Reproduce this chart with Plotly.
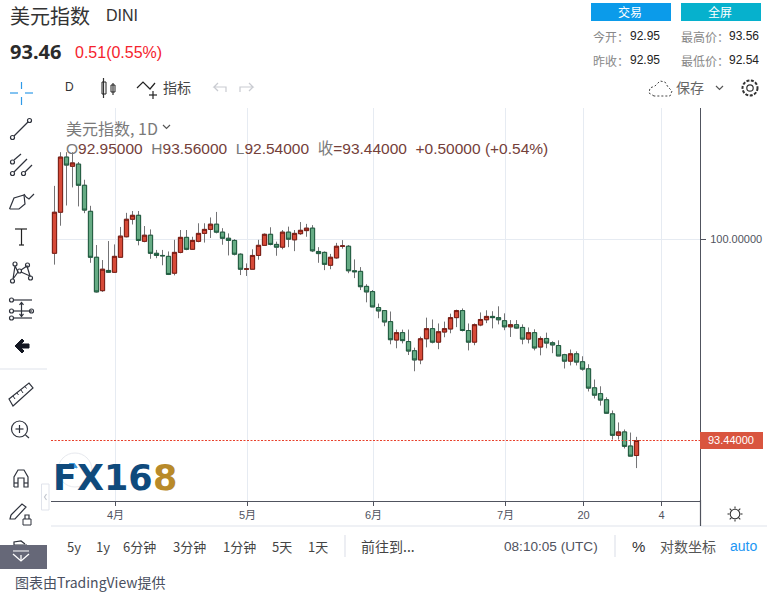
import plotly.graph_objects as go
import numpy as np

W, H = 767, 593

opens = [99.55,100.89,102.69,102.39,102.46,101.77,100.92,99.42,98.33,98.99,98.93,99.42,100.09,100.66,100.79,99.94,100.14,99.55,99.48,99.45,98.90,99.58,100.07,99.68,99.94,100.20,100.33,100.50,100.24,100.04,99.97,99.52,99.03,99.03,99.48,99.81,100.17,99.84,99.75,100.24,
         99.99,100.19,100.29,100.37,99.61,99.58,99.16,99.40,99.78,99.78,98.98,98.96,98.47,98.30,97.78,97.68,97.32,96.72,96.96,96.67,96.37,96.07,96.76,97.09,96.65,96.98,97.08,97.45,97.68,97.03,96.65,97.21,97.38,
         97.49,97.45,97.35,97.15,97.22,97.13,96.75,96.96,96.49,96.77,96.63,96.54,96.24,96.03,96.27,96.01,95.78,95.16,94.97,94.77,94.31,93.61,93.72,93.26,92.95]
closes = [100.89,102.69,102.43,102.50,101.77,100.96,99.42,98.29,99.03,98.93,99.45,100.11,100.66,100.79,99.97,100.14,99.55,99.48,99.47,98.86,99.58,100.07,99.68,99.97,100.20,100.33,100.50,100.24,100.04,99.97,99.52,99.03,99.04,99.48,99.81,100.17,99.84,99.75,100.24,100.01,
          100.20,100.30,100.37,99.63,99.54,99.19,99.42,99.78,99.79,98.98,98.95,98.46,98.29,97.80,97.67,97.31,96.73,96.96,96.70,96.36,96.07,96.76,97.09,96.65,96.99,97.09,97.45,97.68,97.03,96.65,97.22,97.39,97.49,
          97.45,97.38,97.15,97.22,97.11,96.75,96.96,96.46,96.77,96.62,96.56,96.20,96.03,96.27,96.00,95.77,95.15,94.92,94.76,94.33,93.61,93.72,93.25,92.93,93.44]
highs = [101.75,102.85,102.85,102.85,102.53,101.95,101.10,99.82,99.33,99.95,99.84,100.41,100.87,100.93,100.93,100.44,100.33,99.66,99.66,99.61,99.99,100.31,100.31,100.09,100.53,100.53,100.72,100.90,100.37,100.20,100.01,99.55,99.22,99.68,99.99,100.20,100.40,99.93,100.31,100.42,
         100.31,100.57,100.51,100.47,99.75,99.61,99.53,99.89,99.98,99.82,99.35,99.10,98.54,98.35,97.91,97.69,97.65,97.06,97.06,97.06,96.47,96.83,97.45,97.39,97.26,97.32,97.58,97.71,97.75,97.26,97.26,97.62,97.69,
         97.66,97.82,97.59,97.37,97.37,97.23,97.13,97.07,96.84,96.96,96.68,96.71,96.27,96.41,96.35,96.19,95.93,95.43,95.21,94.85,94.42,94.03,93.80,93.70,93.56]
lows = [99.18,100.45,101.11,101.70,101.08,100.86,99.24,98.27,98.29,98.92,98.92,99.42,100.07,100.49,99.81,99.91,99.37,99.39,99.16,98.84,98.83,99.55,99.65,99.66,99.91,99.90,100.05,100.20,99.83,99.48,99.48,98.84,98.81,99.03,99.34,99.81,99.81,99.47,99.68,99.75,
        99.62,100.15,100.09,99.59,99.24,99.00,99.03,99.37,99.70,98.90,98.74,98.35,97.95,97.80,97.43,97.17,96.58,96.45,96.61,96.23,95.70,95.93,96.48,96.61,96.42,96.81,96.94,97.14,97.00,96.38,96.55,97.17,97.27,
        97.10,97.23,97.04,96.82,97.09,96.58,96.61,96.38,96.22,96.45,96.29,96.20,95.79,95.89,95.89,95.72,95.04,94.81,94.58,94.31,93.47,93.47,93.18,92.93,92.54]
sessions = list(range(len(opens)))

month_ticks = [10.17, 32.17, 53.17, 75.17, 88.17, 101.17]
month_labels = ["4月", "5月", "6月", "7月", "20", "4"]
price_ticks = [100]
price_labels = ["100.00000"]
last_price = 93.44

CJK = "Noto Sans CJK SC, Noto Sans, sans-serif"
LAT = "Liberation Sans, Noto Sans CJK SC, sans-serif"

def fx(x): return x / W
def fy(y): return 1 - y / H

shapes, annos = [], []

def text(x, y, s, size=13, color="#333333", anchor="left", font=CJK, **kw):
    annos.append(dict(xref="paper", yref="paper", x=fx(x - 1), y=fy(y - 1), text=s, showarrow=False,
                      xanchor=anchor, yanchor="middle", align=anchor,
                      font=dict(size=size, color=color, family=font),
                      borderpad=0, **kw))

def path(pts, color="#333333", width=1.2, close=False, fill=None, dash=None):
    d = "M" + " L".join(f"{fx(a):.5f},{fy(b):.5f}" for a, b in pts) + (" Z" if close else "")
    shapes.append(dict(type="path", xref="paper", yref="paper", path=d,
                       line=dict(color=color, width=width, dash=dash or "solid"),
                       fillcolor=fill if fill else "rgba(0,0,0,0)"))

def rect(x0, y0, x1, y1, fill=None, color=None, width=1):
    shapes.append(dict(type="rect", xref="paper", yref="paper", x0=fx(x0), x1=fx(x1), y0=fy(y0), y1=fy(y1),
                       fillcolor=fill if fill else "rgba(0,0,0,0)",
                       line=dict(color=color if color else "rgba(0,0,0,0)", width=width)))

def circ(cx, cy, r, color="#333333", width=1.2, fill=None, dash=None):
    shapes.append(dict(type="circle", xref="paper", yref="paper", x0=fx(cx - r), x1=fx(cx + r),
                       y0=fy(cy + r), y1=fy(cy - r), fillcolor=fill if fill else "rgba(0,0,0,0)",
                       line=dict(color=color, width=width, dash=dash or "solid")))

# header
text(10, 16, "美元指数", 20, "#333333")
text(106, 17, "DINI", 16, "#333333", font=LAT)
text(10, 52, "<b>93.46</b>", 20, "#2b2b2b", font="Noto Sans")
text(75, 53, "0.51(0.55%)", 16, "#f5222d", font=LAT)
rect(591, 3, 671, 21, fill="#0b9bea")
rect(681, 3, 761, 21, fill="#06b1cd")
text(631, 12, "交易", 12, "#ffffff", "center")
text(721, 12, "全屏", 12, "#ffffff", "center")
for lbl, val, xl, xv, y in [("今开：", "92.95", 593, 630, 37), ("最高价：", "93.56", 681, 729, 37),
                            ("昨收：", "92.95", 593, 630, 61), ("最低价：", "92.54", 681, 729, 61)]:
    text(xl, y, lbl, 12, "#888888")
    text(xv, y, val, 12, "#222222", font=LAT)

# top toolbar
text(65, 88, "D", 12, "#333333", font=LAT)
path([(103.5, 78), (103.5, 98)]); rect(102, 82, 106, 94, color="#222222")
path([(113, 83), (113, 95)]); rect(111, 85, 115, 92, color="#222222")
path([(137, 88), (143, 82), (150, 89), (155, 83)], "#222222")
path([(149, 95), (157, 95)], "#222222"); path([(153, 91), (153, 99)], "#222222")
text(163, 88, "指标", 14, "#444444")
path([(226, 92), (226, 87), (214, 87), (218, 83)], "#c9cbd1"); path([(214, 87), (218, 91)], "#c9cbd1")
path([(240, 92), (240, 87), (253, 87), (249, 83)], "#c9cbd1"); path([(253, 87), (249, 91)], "#c9cbd1")
path([(654, 96), (649, 93), (650, 88), (655, 86), (660, 81), (665, 82), (668, 87), (672, 91), (670, 96), (654, 96)],
     "#444444", 1, dash="2px,2px")
text(676, 88, "保存", 14, "#666666")
path([(716, 86), (719.5, 89.5), (723, 86)], "#555555")
circ(750, 88, 3.2, "#333333")
circ(750, 88, 7.5, "#333333", dash="3px,1.5px", width=2)

# chart legend
text(66, 129, "美元指数, 1D", 16, "#7a7a7a")
path([(163, 125), (166.5, 128.5), (170, 125)], "#555555")
BR = "#74403a"; GR = "#7a7a7a"
text(66, 149,
     f'<span style="color:{GR}">O</span>92.95000&nbsp;&nbsp;'
     f'<span style="color:{GR}">H</span>93.56000&nbsp;&nbsp;'
     f'<span style="color:{GR}">L</span>92.54000&nbsp;&nbsp;'
     f'<span style="color:{GR}">收</span>=93.44000&nbsp;&nbsp;+0.50000 (+0.54%)', 15.5, BR, font=LAT)

# left toolbar
B = "#2f333d"
path([(10, 93), (18, 93)], "#2f9ae8"); path([(25, 93), (33, 93)], "#2f9ae8")
path([(21.5, 82), (21.5, 89)], "#2f9ae8"); path([(21.5, 97), (21.5, 105)], "#2f9ae8")
path([(14, 136), (28, 122)], B); circ(12.5, 137.5, 2, B); circ(29.5, 120.5, 2, B)
circ(12.5, 162, 2, B); circ(12.5, 173.5, 2, B); circ(23.5, 173.5, 2, B)
path([(14, 160), (21, 154)], B); path([(14, 172), (27, 159)], B); path([(25, 172), (32, 165)], B)
path([(9.5, 209), (14, 198), (24, 195), (25, 204), (19, 209), (9.5, 209)], B)
path([(26, 197), (29, 199), (34, 194)], B); path([(24, 194), (26, 197)], B)
path([(15, 229), (27, 229)], "#222222"); path([(21.5, 229), (21.5, 245)], "#222222"); path([(19, 245), (24, 245)], "#222222")
for c in [(15, 264), (27.5, 265), (19.5, 271), (12.5, 281), (30.5, 278)]:
    circ(c[0], c[1], 2, B)
path([(15, 266), (13, 279), (18, 272), (15, 266)], B); path([(21, 270), (27, 266), (30, 276), (21, 272)], B)
for y in [300, 311, 318]:
    path([(13, y), (32, y)], B)
circ(11.5, 300, 2, B); circ(11.5, 311, 2, B); circ(11.5, 318, 2, B); circ(31.5, 311, 2, B)
path([(21.5, 303), (21.5, 316)], B)
path([(19.5, 305), (21.5, 302.5), (23.5, 305)], B); path([(19.5, 314), (21.5, 316.5), (23.5, 314)], B)
path([(22, 339), (15, 346), (22, 353), (24, 351), (21, 348), (29, 348), (29, 344), (21, 344), (24, 341)],
     "#131722", 1, close=True, fill="#131722")
path([(0, 369), (47, 369)], "#e0e3eb")
path([(9, 399), (29, 383), (33, 388), (13, 406)], B, close=True)
for p, q in [((13, 396), (15, 399)), ((17, 393), (18.5, 395)), ((21, 390), (23, 393)), ((25, 386.5), (26.5, 388.5))]:
    path([p, q], B, 1)
circ(19.5, 429, 8, B); path([(15.5, 429), (23.5, 429)], B); path([(19.5, 425), (19.5, 433)], B); path([(25.5, 435), (29, 438)], B)
path([(14, 487), (14, 477), (18, 470), (24, 470), (28, 477), (28, 487), (24, 487), (24, 478), (18, 478), (18, 487), (14, 487)], B)
path([(14, 483), (18, 483)], B); path([(24, 483), (28, 483)], B)
path([(11, 515), (22, 504), (26, 507), (15, 519), (10, 519), (11, 515)], B)
rect(23, 519, 31, 525, color=B); path([(25, 519), (25, 515), (29, 515), (29, 519)], B)
rect(41.5, 484, 49, 510, fill="#ffffff", color="#e0e3eb")
path([(46.5, 494), (44.5, 497), (46.5, 500)], "#c3c7cf")
path([(14, 550), (14, 542), (21, 541), (25, 544)], B); rect(14, 545, 27, 546, color=B)
rect(0, 545, 47, 569, fill="#666878")
path([(13, 554), (21, 561), (29, 554)], "#ffffff", 1.3)
path([(21, 555), (21, 560)], "#ffffff", 1.3)
path([(13, 551), (29, 551)], "#ffffff", 1.0)

# logo
circ(75, 470, 17, "#e7e9ee", 1)
text(53, 479, "<b>FX16</b>", 35, "#0f4a7c", font="DejaVu Sans")
text(152.5, 479, "<b>8</b>", 35, "#b88a2a", font="DejaVu Sans")
path([(67, 468), (70, 464), (74, 464), (77, 468)], "#3f9fe0", 2, fill="#3f9fe0")

# bottom toolbar
path([(51, 526), (767, 526)], "#e0e3eb")
for s, x in [("5y", 67), ("1y", 96), ("6分钟", 123), ("3分钟", 173), ("1分钟", 223), ("5天", 272), ("1天", 308)]:
    text(x, 547, s, 13, "#444444")
text(361, 547, "前往到...", 14, "#444444")
text(504, 547, "08:10:05 (UTC)", 13.6, "#50535e", font=LAT)
path([(345, 535), (345, 557)], "#e0e3eb"); path([(615, 535), (615, 557)], "#e0e3eb")
text(632, 547, "%", 15, "#333333", font=LAT)
text(660, 547, "对数坐标", 14, "#555555")
text(730, 547, "auto", 14, "#2196f3", font=LAT)
text(15, 583, "图表由TradingView提供", 14, "#4a5060")

# axis extensions and sun icon
path([(700.5, 500), (700.5, 526)], "#50535e")
circ(735, 514, 4.8, "#333333", 1.1)
for a in range(0, 360, 90):
    r = np.radians(a + 45)
    path([(735 + 5 * np.cos(r), 514 + 5 * np.sin(r)), (735 + 7.5 * np.cos(r), 514 + 7.5 * np.sin(r))], "#333333", 1.1)
for a in range(0, 360, 90):
    r = np.radians(a)
    path([(735 + 5.5 * np.cos(r), 514 + 5.5 * np.sin(r)), (735 + 7.5 * np.cos(r), 514 + 7.5 * np.sin(r))], "#333333", 1.1)

# last price label
rect(700, 432, 763, 449, fill="#d9553f")
text(732, 441, "93.44000", 11, "#ffffff", "center", font=LAT)

fig = go.Figure()
fig.add_trace(go.Candlestick(x=sessions, open=opens, close=closes, high=highs, low=lows, hoverinfo="skip",
                             increasing=dict(line=dict(color="#737375", width=1), fillcolor="rgba(0,0,0,0)"),
                             decreasing=dict(line=dict(color="#737375", width=1), fillcolor="rgba(0,0,0,0)")))
body_hi = np.maximum(opens, closes).tolist()
body_lo = np.minimum(opens, closes).tolist()
fig.add_trace(go.Candlestick(x=sessions, open=opens, close=closes, high=body_hi, low=body_lo, hoverinfo="skip",
                             increasing=dict(line=dict(color="#7b1c13", width=1), fillcolor="#d64a38"),
                             decreasing=dict(line=dict(color="#1f5b3f", width=1), fillcolor="#66ab84")))
fig.add_trace(go.Scatter(x=[-0.583, 107.58], y=[last_price, last_price], mode="lines", hoverinfo="skip",
                         line=dict(color="#e8412c", width=1, dash="2px,1.5px")))

fig.update_layout(
    width=W, height=H, margin=dict(l=0, r=0, t=0, b=0),
    paper_bgcolor="#ffffff", plot_bgcolor="#ffffff", showlegend=False,
    boxmode="overlay", boxgap=0.3, boxgroupgap=0,
    shapes=shapes, annotations=annos,
    xaxis=dict(domain=[51 / W, 700 / W], range=[-0.583, 107.58], rangeslider=dict(visible=False),
               tickmode="array", tickvals=month_ticks, ticktext=month_labels, showgrid=True,
               gridcolor="#e6ebf2", gridwidth=1, zeroline=False, ticks="outside", ticklen=4,
               tickcolor="#50535e", showline=True, linecolor="#50535e", linewidth=1,
               tickfont=dict(size=11, color="#50535e", family="Liberation Sans, Noto Sans CJK SC"),
               anchor="y", fixedrange=True),
    yaxis=dict(domain=[1 - 500.5 / H, 1 - 108 / H], range=[91.482, 104.292], side="right",
               tickmode="array", tickvals=price_ticks, ticktext=price_labels, showgrid=True,
               gridcolor="#e6ebf2", gridwidth=1, zeroline=False, ticks="outside", ticklen=5,
               ticklabelstandoff=2,
               tickcolor="#50535e", showline=True, linecolor="#50535e", linewidth=1,
               tickfont=dict(size=11, color="#50535e", family="Liberation Sans"),
               anchor="x", fixedrange=True),
)
fig.write_html("out.html", config=dict(displayModeBar=False),
               post_script="document.body.style.margin='0';document.documentElement.style.overflow='hidden';")
